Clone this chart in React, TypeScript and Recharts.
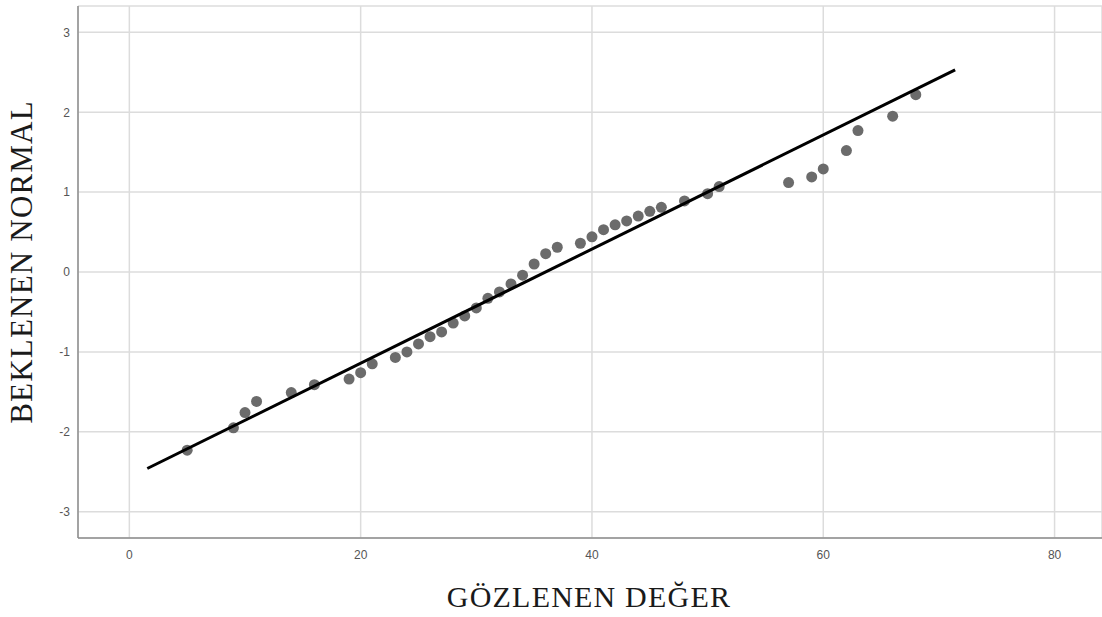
import React from 'react';
import { ScatterChart, Scatter, XAxis, YAxis, CartesianGrid, Label } from 'recharts';

const observed = [5, 9, 10, 11, 14, 16, 19, 20, 21, 23, 24, 25, 26, 27, 28, 29, 30, 31, 32, 33, 34, 35, 36, 37, 39, 40, 41, 42, 43, 44, 45, 46, 48, 50, 51, 57, 59, 60, 62, 63, 66, 68];
const expected = [-2.23, -1.95, -1.76, -1.62, -1.51, -1.41, -1.34, -1.26, -1.15, -1.07, -1.0, -0.9, -0.81, -0.75, -0.64, -0.55, -0.45, -0.33, -0.25, -0.15, -0.04, 0.1, 0.23, 0.31, 0.36, 0.44, 0.53, 0.59, 0.64, 0.7, 0.76, 0.81, 0.89, 0.98, 1.07, 1.12, 1.19, 1.29, 1.52, 1.77, 1.95, 2.22];

const lineX = [1.55, 71.4];
const lineY = [-2.46, 2.53];

const xTicks = [0, 20, 40, 60, 80];
const yTicks = [-3, -2, -1, 0, 1, 2, 3];

const points = observed.map((x, i) => ({ x, y: expected[i] }));
const refLine = lineX.map((x, i) => ({ x, y: lineY[i] }));

const tickStyle = { fontSize: 12, fill: '#555', fontFamily: 'Arial, "Liberation Sans", sans-serif' };
const serif = '"Liberation Serif", "Times New Roman", serif';

export default function App() {
  return (
    <div style={{ position: 'absolute', left: 0, top: 0, background: '#fff' }}>
      <ScatterChart width={1102} height={617} margin={{ top: 6, right: 0, bottom: 0, left: 0 }}>
        <CartesianGrid stroke="#dcdcdc" strokeWidth={1.5} />
        <XAxis
          type="number"
          dataKey="x"
          domain={[-4.44, 84.1]}
          ticks={xTicks}
          tickLine={false}
          tickMargin={6}
          height={79}
          stroke="#8c8c8c"
          strokeWidth={1.5}
          tick={tickStyle}
          allowDataOverflow
        >
          <Label
            content={() => (
              <text x={589} y={607} textAnchor="middle" fontSize={30} letterSpacing={1.2} fill="#1a1a1a" fontFamily={serif}>
                GÖZLENEN DEĞER
              </text>
            )}
          />
        </XAxis>
        <YAxis
          type="number"
          dataKey="y"
          domain={[-3.33, 3.33]}
          ticks={yTicks}
          tickLine={false}
          width={78}
          stroke="#8c8c8c"
          strokeWidth={1.5}
          tick={tickStyle}
          allowDataOverflow
        >
          <Label
            content={() => (
              <text transform="translate(32,262) rotate(-90)" textAnchor="middle" fontSize={31} letterSpacing={1.2} fill="#1a1a1a" fontFamily={serif}>
                BEKLENEN NORMAL
              </text>
            )}
          />
        </YAxis>
        <Scatter data={points} fill="#6b6b6b" isAnimationActive={false} shape={(p: any) => <circle cx={p.cx} cy={p.cy} r={5.5} fill="#6b6b6b" />} />
        <Scatter
          data={refLine}
          line={{ stroke: '#000', strokeWidth: 3 }}
          shape={() => <g />}
          isAnimationActive={false}
        />
      </ScatterChart>
    </div>
  );
}
